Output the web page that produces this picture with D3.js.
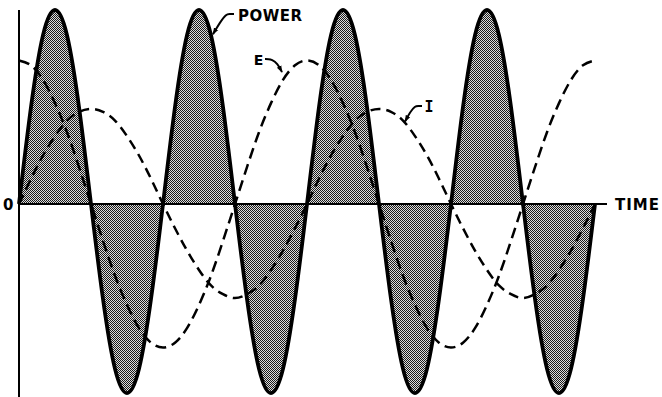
<!DOCTYPE html>
<html>
<head>
<meta charset="utf-8">
<script src="https://cdn.jsdelivr.net/npm/d3@7/dist/d3.min.js"></script>
<style>
  html, body { margin: 0; padding: 0; background: #fff; }
  svg { display: block; }
  text { font-family: "DejaVu Sans", sans-serif; font-weight: bold; fill: #000; }
</style>
</head>
<body>
<svg id="chart" width="662" height="397"></svg>
<script>
// Time in electrical degrees of E / I, sampled every 15 degrees (0 .. 720)
const timeDeg = d3.range(0, 721, 15);

// Power (E x I), relative units
const powerValues = [
  0, 0.50, 0.87, 1.00, 0.87, 0.50, 0, -0.49, -0.85, -0.975, -0.85, -0.49,
  0, 0.50, 0.87, 1.00, 0.87, 0.50, 0, -0.49, -0.85, -0.975, -0.85, -0.49,
  0, 0.50, 0.87, 1.00, 0.87, 0.50, 0, -0.49, -0.85, -0.975, -0.85, -0.49,
  0, 0.50, 0.87, 1.00, 0.87, 0.50, 0, -0.49, -0.85, -0.975, -0.85, -0.49,
  0
];

// Voltage E (leads by 90 degrees)
const eValues = [
  0.74, 0.715, 0.64, 0.52, 0.37, 0.19, 0, -0.19, -0.37, -0.52, -0.64, -0.715,
  -0.74, -0.715, -0.64, -0.52, -0.37, -0.19, 0, 0.19, 0.37, 0.52, 0.64, 0.715,
  0.74, 0.715, 0.64, 0.52, 0.37, 0.19, 0, -0.19, -0.37, -0.52, -0.64, -0.715,
  -0.74, -0.715, -0.64, -0.52, -0.37, -0.19, 0, 0.19, 0.37, 0.52, 0.64, 0.715,
  0.74
];

// Current I
const iValues = [
  0, 0.13, 0.25, 0.35, 0.43, 0.475, 0.49, 0.475, 0.43, 0.35, 0.25, 0.13,
  0, -0.125, -0.24, -0.34, -0.42, -0.465, -0.485, -0.465, -0.42, -0.34, -0.24, -0.125,
  0, 0.13, 0.25, 0.35, 0.43, 0.475, 0.49, 0.475, 0.43, 0.35, 0.25, 0.13,
  0, -0.125, -0.24, -0.34, -0.42, -0.465, -0.485, -0.465, -0.42, -0.34, -0.24, -0.125,
  0
];

// Text labels
const axisLabels = { origin: "0", time: "TIME" };
const seriesLabels = { power: "POWER", e: "E", i: "I" };

const svg = d3.select("#chart");
const x = d3.scaleLinear().domain([0, 720]).range([19, 595]);
const y = d3.scaleLinear().domain([-1, 1]).range([398, 10]);

// stipple pattern
const defs = svg.append("defs");
const pat = defs.append("pattern")
  .attr("id", "stipple").attr("patternUnits", "userSpaceOnUse")
  .attr("width", 2).attr("height", 2);
pat.append("rect").attr("width", 2).attr("height", 2).attr("fill", "#dcdcdc");
pat.append("rect").attr("x", 0).attr("y", 0).attr("width", 1).attr("height", 1).attr("fill", "#1a1a1a");
pat.append("rect").attr("x", 1).attr("y", 1).attr("width", 1).attr("height", 1).attr("fill", "#1a1a1a");

defs.append("marker")
  .attr("id", "arrow").attr("viewBox", "0 0 10 10")
  .attr("refX", 9).attr("refY", 5)
  .attr("markerWidth", 7).attr("markerHeight", 7)
  .attr("markerUnits", "userSpaceOnUse")
  .attr("orient", "auto")
  .append("path").attr("d", "M0,1.5 L10,5 L0,8.5 Z").attr("fill", "#000");

const pData = timeDeg.map((t, k) => ({ t, v: powerValues[k] }));
const eData = timeDeg.map((t, k) => ({ t, v: eValues[k] }));
const iData = timeDeg.map((t, k) => ({ t, v: iValues[k] }));

// power fill
const area = d3.area().x(d => x(d.t)).y0(y(0)).y1(d => y(d.v)).curve(d3.curveNatural);
svg.append("path").datum(pData).attr("d", area).attr("fill", "url(#stipple)");

// axes
svg.append("line").attr("x1", x(0)).attr("x2", x(0)).attr("y1", y(1)).attr("y2", 397)
  .attr("stroke", "#000").attr("stroke-width", 2);
svg.append("line").attr("x1", x(0)).attr("x2", x(735)).attr("y1", y(0)).attr("y2", y(0))
  .attr("stroke", "#000").attr("stroke-width", 2);

// E and I dashed
const line = d3.line().x(d => x(d.t)).y(d => y(d.v)).curve(d3.curveNatural);
svg.append("path").datum(eData).attr("d", line).attr("fill", "none")
  .attr("stroke", "#000").attr("stroke-width", 2.5).attr("stroke-dasharray", "11,6");
svg.append("path").datum(iData).attr("d", line).attr("fill", "none")
  .attr("stroke", "#000").attr("stroke-width", 2.5).attr("stroke-dasharray", "10,6");

// power outline
svg.append("path").datum(pData).attr("d", line).attr("fill", "none")
  .attr("stroke", "#000").attr("stroke-width", 3.8).attr("stroke-linejoin", "round");

// labels
svg.append("text").attr("x", 3).attr("y", y(0) + 6).style("font-size", "15px").text(axisLabels.origin);
svg.append("text").attr("x", x(745)).attr("y", y(0) + 6).style("font-size", "15px")
  .style("letter-spacing", "1px").text(axisLabels.time);

svg.append("text").attr("x", x(273.75)).attr("y", y(0.943)).style("font-size", "15px")
  .style("letter-spacing", "0.5px").text(seriesLabels.power);
svg.append("text").attr("x", x(293.5)).attr("y", y(0.716)).style("font-size", "14px").text(seriesLabels.e);
svg.append("text").attr("x", x(507)).attr("y", y(0.474)).style("font-size", "15px")
  .style("font-family", "'DejaVu Sans Mono', monospace").text(seriesLabels.i);

// leaders
const leader = d3.line().x(d => x(d[0])).y(d => y(d[1])).curve(d3.curveBasis);
const leaders = [
  [[268.75, 0.979], [263, 0.979], [259, 0.979], [251, 0.935], [242.5, 0.875]],
  [[307.5, 0.747], [312, 0.747], [316, 0.745], [323, 0.725], [328.75, 0.68]],
  [[503.75, 0.505], [499, 0.505], [495, 0.505], [489, 0.475], [482.5, 0.425]]
];
leaders.forEach(pts => {
  svg.append("path").attr("d", leader(pts)).attr("fill", "none")
    .attr("stroke", "#000").attr("stroke-width", 2).attr("marker-end", "url(#arrow)");
});
</script>
</body>
</html>
